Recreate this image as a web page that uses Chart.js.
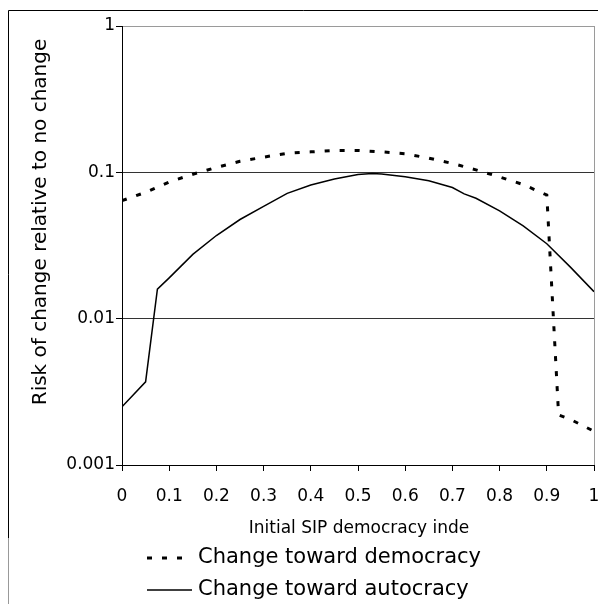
<!DOCTYPE html>
<html>
<head>
<meta charset="utf-8">
<script src="https://cdn.jsdelivr.net/npm/chart.js@4.4.0/dist/chart.umd.min.js"></script>
<style>
html, body { margin: 0; padding: 0; background: #fff; }
</style>
</head>
<body>
<canvas id="myChart" width="598" height="604"></canvas>
<script>
// values
var demX = [0, 0.05, 0.1, 0.15, 0.2, 0.25, 0.3, 0.35, 0.4, 0.45, 0.5, 0.55, 0.6, 0.65, 0.7, 0.75, 0.8, 0.85, 0.9, 0.925, 0.95, 1];
var demY = [0.064, 0.073, 0.086, 0.097, 0.108, 0.119, 0.127, 0.135, 0.138, 0.141, 0.141, 0.138, 0.134, 0.125, 0.115, 0.104, 0.093, 0.0825, 0.07, 0.0022, 0.00205, 0.0017];

var autX = [0, 0.05, 0.075, 0.1, 0.15, 0.2, 0.25, 0.3, 0.35, 0.4, 0.45, 0.5, 0.53, 0.55, 0.6, 0.65, 0.7, 0.725, 0.75, 0.8, 0.85, 0.9, 0.95, 1];
var autY = [0.0025, 0.0037, 0.0159, 0.019, 0.0275, 0.037, 0.0476, 0.0585, 0.0718, 0.082, 0.09, 0.0965, 0.098, 0.0975, 0.0933, 0.0875, 0.0787, 0.0712, 0.0665, 0.0545, 0.043, 0.0325, 0.0225, 0.0153];

var xTicks = [0, 0.1, 0.2, 0.3, 0.4, 0.5, 0.6, 0.7, 0.8, 0.9, 1];
var xTickLabels = ['0', '0.1', '0.2', '0.3', '0.4', '0.5', '0.6', '0.7', '0.8', '0.9', '1'];
var yTicks = [0.001, 0.01, 0.1, 1];
var yTickLabels = ['0.001', '0.01', '0.1', '1'];

var seriesNames = ['Change toward democracy', 'Change toward autocracy'];
var xTitle = 'Initial SIP democracy inde';
var yTitle = 'Risk of change relative to no change';

var FONT = '"DejaVu Sans", Verdana, sans-serif';
var DASH = [5, 10];

function toPoints(xs, ys) {
    return xs.map(function(x, i) { return { x: x, y: ys[i] }; });
}

// titles, legend and frames drawn by hand
var extras = {
    id: 'extras',
    beforeDatasetsDraw: function(chart) {
        var c = chart.ctx, a = chart.chartArea;
        c.save();
        c.strokeStyle = '#9a9a9a';
        c.lineWidth = 1;
        c.beginPath();
        c.moveTo(a.right + 0.5, a.top);
        c.lineTo(a.right + 0.5, a.bottom);
        c.stroke();
        c.restore();
    },
    afterDraw: function(chart) {
        var c = chart.ctx;
        c.save();
        // outer frame
        c.strokeStyle = '#000';
        c.lineWidth = 1;
        c.beginPath();
        c.moveTo(8.5, 538);
        c.lineTo(8.5, 10.5);
        c.lineTo(598, 10.5);
        c.stroke();
        c.strokeStyle = '#999';
        c.beginPath();
        c.moveTo(8.5, 538);
        c.lineTo(8.5, 604);
        c.stroke();

        c.fillStyle = '#000';
        // y title
        c.save();
        c.translate(41, 222);
        c.rotate(-Math.PI / 2);
        c.font = '20px ' + FONT;
        c.textAlign = 'center';
        c.textBaseline = 'middle';
        c.fillText(yTitle, 0, 0);
        c.restore();

        // x title
        c.font = '17px ' + FONT;
        c.textAlign = 'center';
        c.textBaseline = 'middle';
        c.fillText(xTitle, 359, 529);

        // legend
        var rows = [558, 590];
        c.font = '21px ' + FONT;
        c.textAlign = 'left';
        chart.data.datasets.forEach(function(ds, i) {
            var y = rows[i];
            c.save();
            c.strokeStyle = '#000';
            c.lineWidth = i === 0 ? 3 : 1.5;
            c.setLineDash(i === 0 ? DASH : []);
            c.beginPath();
            c.moveTo(147, y);
            c.lineTo(192, y);
            c.stroke();
            c.restore();
            c.fillText(ds.label, 198, y);
        });
        c.restore();
    }
};

var ctx = document.getElementById('myChart').getContext('2d');
var chart = new Chart(ctx, {
    type: 'line',
    data: {
        datasets: [{
            label: seriesNames[0],
            data: toPoints(demX, demY),
            borderColor: '#000',
            borderWidth: 3,
            borderDash: DASH,
            pointRadius: 0,
            tension: 0,
            fill: false
        }, {
            label: seriesNames[1],
            data: toPoints(autX, autY),
            borderColor: '#000',
            borderWidth: 1.5,
            pointRadius: 0,
            tension: 0,
            fill: false
        }]
    },
    options: {
        responsive: false,
        animation: false,
        devicePixelRatio: 1,
        layout: { padding: { top: 26, right: 4, left: 0, bottom: 0 } },
        plugins: {
            legend: { display: false },
            tooltip: { enabled: false }
        },
        scales: {
            x: {
                type: 'linear',
                min: 0,
                max: 1,
                afterBuildTicks: function(s) { s.ticks = xTicks.map(function(v) { return { value: v }; }); },
                afterFit: function(s) { s.height = 139; s.paddingLeft = 0; s.paddingRight = 0; },
                ticks: {
                    autoSkip: false,
                    maxRotation: 0,
                    padding: 15,
                    color: '#000',
                    font: { family: FONT, size: 17 },
                    callback: function(v, i) { return xTickLabels[i]; }
                },
                grid: { drawOnChartArea: false, tickLength: 6, tickColor: '#000' },
                border: { color: '#000', width: 1 }
            },
            y: {
                type: 'logarithmic',
                min: 0.001,
                max: 1,
                afterBuildTicks: function(s) { s.ticks = yTicks.map(function(v) { return { value: v }; }); },
                afterFit: function(s) { s.width = 122; s.paddingTop = 0; s.paddingBottom = 0; },
                ticks: {
                    autoSkip: false,
                    padding: 1,
                    color: '#000',
                    font: { family: FONT, size: 17 },
                    callback: function(v, i) { return yTickLabels[i]; }
                },
                grid: {
                    tickLength: 6,
                    tickColor: '#000',
                    color: function(c) { return c.tick && c.tick.value === 1 ? '#9a9a9a' : '#333'; }
                },
                border: { color: '#000', width: 1 }
            }
        }
    },
    plugins: [extras]
});
</script>
</body>
</html>
